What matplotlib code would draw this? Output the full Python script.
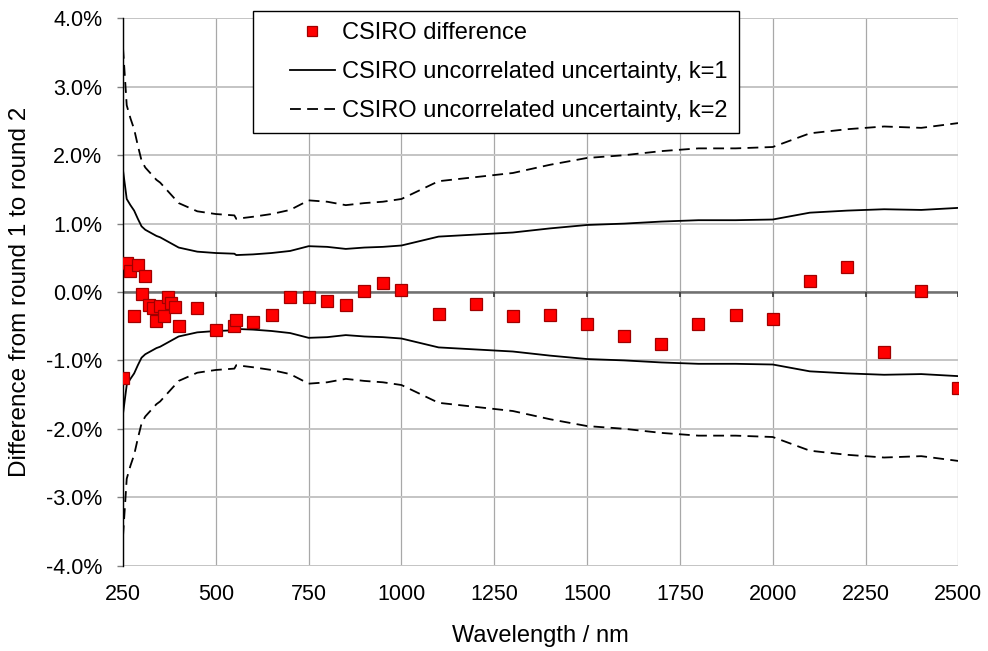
import matplotlib
matplotlib.use('agg')
from matplotlib import pyplot as plt
from matplotlib.lines import Line2D
from matplotlib.legend_handler import HandlerLine2D
from matplotlib.ticker import MultipleLocator, FuncFormatter

# CSIRO difference from round 1 to round 2 (%)
wavelength = [250, 260, 270, 280, 290, 300, 310, 320, 330, 340, 350, 360, 370, 380, 390, 400,
              450, 500, 550, 555, 600, 650, 700, 750, 800, 850, 900, 950, 1000,
              1100, 1200, 1300, 1400, 1500, 1600, 1700, 1800, 1900, 2000,
              2100, 2200, 2300, 2400, 2500]
difference = [-1.26, 0.43, 0.31, -0.35, 0.39, -0.03, 0.23, -0.19, -0.23, -0.42, -0.20, -0.35, -0.08, -0.16, -0.22, -0.49,
              -0.23, -0.56, -0.49, -0.41, -0.44, -0.34, -0.08, -0.07, -0.13, -0.19, 0.02, 0.13, 0.03,
              -0.32, -0.18, -0.35, -0.33, -0.47, -0.64, -0.76, -0.47, -0.33, -0.39,
              0.16, 0.36, -0.88, 0.02, -1.40]

# uncorrelated uncertainty (%)
wl_unc = [250, 260, 270, 280, 290, 300, 310, 320, 330, 340, 350, 360, 370, 380, 390, 400,
          450, 500, 550, 555, 600, 650, 700, 750, 800, 850, 900, 950, 1000,
          1100, 1200, 1300, 1400, 1500, 1600, 1700, 1800, 1900, 2000,
          2100, 2200, 2300, 2400, 2500]
unc_k1 = [1.78, 1.36, 1.27, 1.19, 1.07, 0.96, 0.91, 0.88, 0.85, 0.82, 0.80, 0.77, 0.74, 0.71, 0.68, 0.65,
          0.59, 0.57, 0.56, 0.54, 0.55, 0.57, 0.60, 0.67, 0.66, 0.63, 0.65, 0.66, 0.68,
          0.81, 0.84, 0.87, 0.93, 0.98, 1.00, 1.03, 1.05, 1.05, 1.06,
          1.16, 1.19, 1.21, 1.20, 1.23]
unc_k2 = [3.57, 2.73, 2.54, 2.38, 2.14, 1.92, 1.82, 1.76, 1.70, 1.64, 1.60, 1.54, 1.48, 1.42, 1.36, 1.30,
          1.18, 1.14, 1.12, 1.07, 1.10, 1.14, 1.20, 1.34, 1.32, 1.27, 1.30, 1.32, 1.36,
          1.62, 1.68, 1.74, 1.86, 1.96, 2.00, 2.06, 2.10, 2.10, 2.12,
          2.32, 2.38, 2.42, 2.40, 2.47]

plt.rcParams['font.family'] = ['Liberation Sans', 'DejaVu Sans']

fig = plt.figure(figsize=(9.88, 6.51), dpi=100)
ax = fig.add_axes([0.1245, 0.1312, 0.8455, 0.8405])

ax.set_xlim(250, 2500)
ax.set_ylim(-4, 4)
ax.xaxis.set_major_locator(MultipleLocator(250))
ax.yaxis.set_major_locator(MultipleLocator(1))
ax.yaxis.set_major_formatter(FuncFormatter(lambda v, p: f"{v:.1f}%"))

# grid, Excel style
ax.grid(axis='x', color='#a8a8a8', lw=0.9)
ax.grid(axis='y', color='#c4c4c4', lw=1.4)
ax.set_axisbelow(True)

for s in ['top', 'right', 'bottom']:
    ax.spines[s].set_visible(False)
ax.spines['left'].set_color('black')
ax.spines['left'].set_linewidth(1.0)

ax.tick_params(axis='y', direction='out', length=4, width=1, color='#808080', pad=11, labelsize=15.5)
ax.tick_params(axis='x', length=0, pad=13, labelsize=15.5)

# zero line with tick marks (x axis crosses at 0)
ax.axhline(0, color='#707070', lw=1.8, zorder=1.5)
ax.vlines(ax.get_xticks(), -0.08, 0, color='#404040', lw=1.3, zorder=1.5)

neg_k1 = [-v for v in unc_k1]
neg_k2 = [-v for v in unc_k2]

dash = (0, (6, 3.5))
ax.plot(wavelength, difference, ls='none', marker='s', ms=8.2, mfc='#ff0000', mec='#a00000', mew=0.9,
        label='CSIRO difference', zorder=4)
ax.plot(wl_unc, unc_k1, color='black', lw=1.3, label='CSIRO uncorrelated uncertainty, k=1', zorder=3)
ax.plot(wl_unc, neg_k1, color='black', lw=1.3, zorder=3)
ax.plot(wl_unc, unc_k2, color='black', lw=1.3, ls=dash, label='CSIRO uncorrelated uncertainty, k=2', zorder=3)
ax.plot(wl_unc, neg_k2, color='black', lw=1.3, ls=dash, zorder=3)

ax.set_xlabel('Wavelength / nm', fontsize=17, labelpad=15)
ax.set_ylabel('Difference from round 1 to round 2', fontsize=17.5)
ax.yaxis.set_label_coords(-0.110, 0.5)

leg = ax.legend(loc='upper left', bbox_to_anchor=(253 / 988, 1 - 11 / 651), bbox_transform=fig.transFigure,
                fontsize=17, frameon=True, fancybox=False, shadow=False, framealpha=1,
                edgecolor='black', borderaxespad=0, handlelength=3.0, handletextpad=0.3,
                labelspacing=0.72, borderpad=0.47, markerscale=0.85,
                handler_map={Line2D: HandlerLine2D(xpad=1.08)})
leg.get_frame().set_linewidth(1.0)
leg.set_zorder(10)

fig.savefig('out.png', dpi=100, facecolor='white')
plt.close(fig)
